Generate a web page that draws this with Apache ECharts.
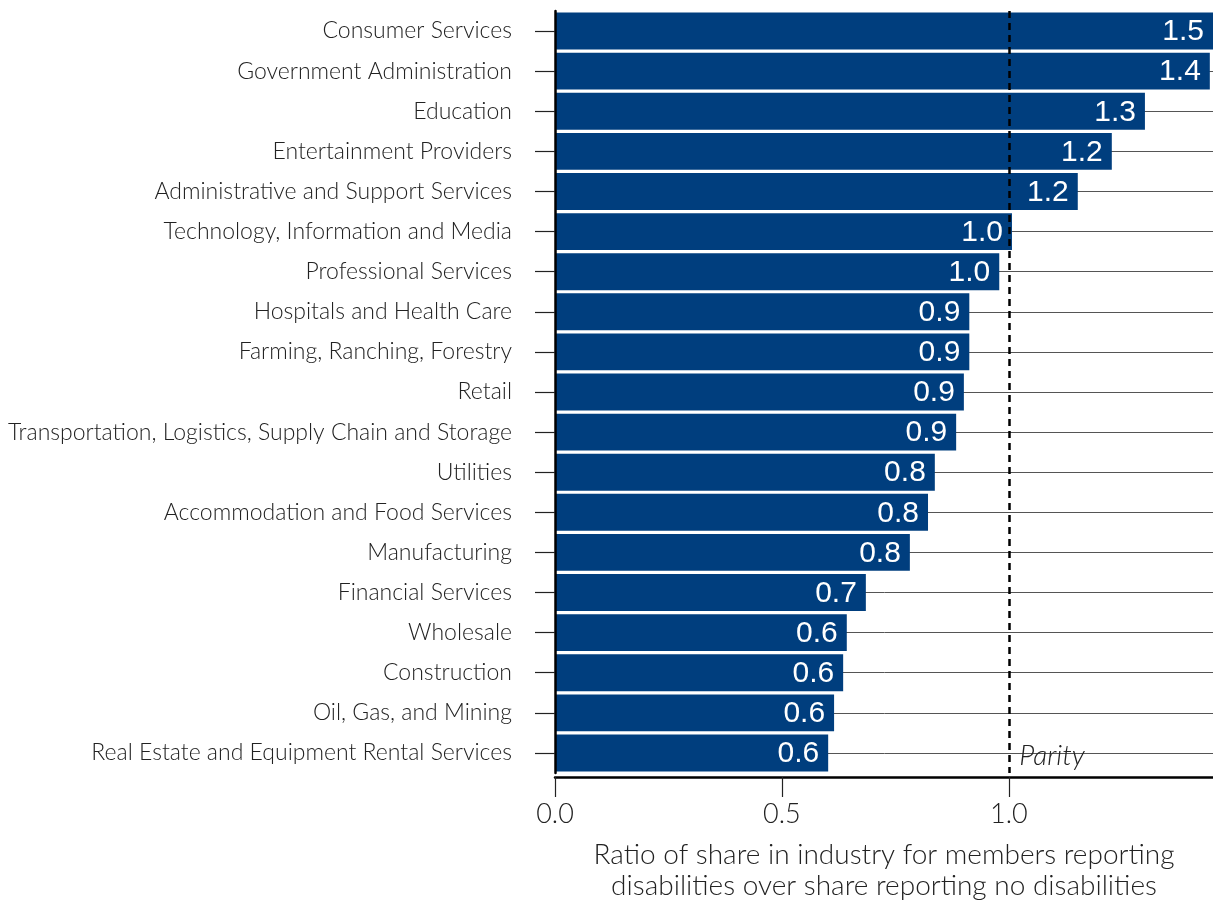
<!DOCTYPE html>
<html>
<head>
<meta charset="utf-8">
<script src="https://cdn.jsdelivr.net/npm/echarts@6/dist/echarts.min.js"></script>
<style>
  html, body { margin: 0; padding: 0; background: #fff; }
  #chart { width: 1213px; height: 902px; }
</style>
</head>
<body>
<div id="chart"></div>
<script>
// Industry categories, top to bottom
const industries = [
  'Consumer Services',
  'Government Administration',
  'Education',
  'Entertainment Providers',
  'Administrative and Support Services',
  'Technology, Information and Media',
  'Professional Services',
  'Hospitals and Health Care',
  'Farming, Ranching, Forestry',
  'Retail',
  'Transportation, Logistics, Supply Chain and Storage',
  'Utilities',
  'Accommodation and Food Services',
  'Manufacturing',
  'Financial Services',
  'Wholesale',
  'Construction',
  'Oil, Gas, and Mining',
  'Real Estate and Equipment Rental Services'
];

// Ratio of industry share (members reporting disabilities / reporting none)
const ratios = [
  1.47, 1.443, 1.300, 1.227, 1.152, 1.007, 0.979, 0.913, 0.913, 0.901,
  0.884, 0.837, 0.822, 0.782, 0.685, 0.643, 0.635, 0.615, 0.602
];

const xTicks = [0, 0.5, 1.0];
const parityValue = 1.0;
const axisTitle = 'Ratio of share in industry for members reporting\ndisabilities over share reporting no disabilities';

const textFont = 'Lato';
const chart = echarts.init(document.getElementById('chart'), null, { renderer: 'canvas' });

chart.setOption({
  animation: false,
  backgroundColor: '#ffffff',
  grid: { left: 555, right: 0, top: 11, height: 762, containLabel: false, outerBoundsMode: 'none' },
  xAxis: {
    type: 'value',
    min: 0,
    max: 1.45,
    offset: 4,
    axisLine: { show: true, lineStyle: { color: '#000', width: 2.5 } },
    axisTick: { show: true, length: 20, customValues: xTicks, lineStyle: { color: '#222', width: 1.2 } },
    axisLabel: {
      customValues: xTicks,
      formatter: v => v.toFixed(1),
      fontFamily: textFont, fontWeight: 300, fontSize: 27, color: '#222', margin: 24
    },
    splitLine: { show: false },
    name: axisTitle,
    nameLocation: 'middle',
    nameGap: 62,
    nameTextStyle: { fontFamily: textFont, fontWeight: 300, fontSize: 28, color: '#222', lineHeight: 31, align: 'center' },
    z: 4
  },
  yAxis: [
    {
      type: 'category',
      data: industries,
      inverse: true,
      axisLine: { show: true, lineStyle: { color: '#000', width: 2.5 } },
      axisTick: { show: true, alignWithLabel: true, length: 20, lineStyle: { color: '#222', width: 1.2 } },
      axisLabel: { fontFamily: textFont, fontWeight: 300, fontSize: 23, color: '#222', margin: 43 },
      splitLine: { show: false },
      z: 4
    },
    {
      // thin rules across the plot at each category center
      type: 'category',
      data: industries,
      inverse: true,
      position: 'left',
      axisLine: { show: false },
      axisTick: { show: true, inside: true, alignWithLabel: true, length: 700, lineStyle: { color: '#555', width: 1 } },
      axisLabel: { show: false },
      splitLine: { show: false },
      z: 0
    }
  ],
  series: [
    {
      type: 'bar',
      yAxisIndex: 0,
      data: ratios,
      barCategoryGap: '8%',
      clip: true,
      itemStyle: { color: '#003e7e' },
      label: {
        show: true,
        position: 'insideRight',
        distance: 9,
        offset: [0, 1],
        formatter: p => p.value.toFixed(1),
        fontFamily: 'Liberation Sans',
        fontSize: 30,
        color: '#ffffff'
      },
      markLine: {
        silent: true,
        symbol: ['none', 'none'],
        label: { show: false },
        lineStyle: { color: '#000', width: 2.5, type: [7, 5] },
        data: [{ xAxis: parityValue }],
        z: 5
      },
      markPoint: {
        silent: true,
        symbol: 'circle',
        symbolSize: 1,
        itemStyle: { color: 'rgba(0,0,0,0)' },
        label: {
          show: true,
          position: 'right',
          distance: 10,
          offset: [0, 3],
          formatter: 'Parity',
          fontFamily: textFont,
          fontWeight: 300,
          fontStyle: 'italic',
          fontSize: 28,
          color: '#222'
        },
        data: [{ coord: [parityValue, industries[industries.length - 1]] }]
      }
    }
  ]
});
</script>
</body>
</html>
